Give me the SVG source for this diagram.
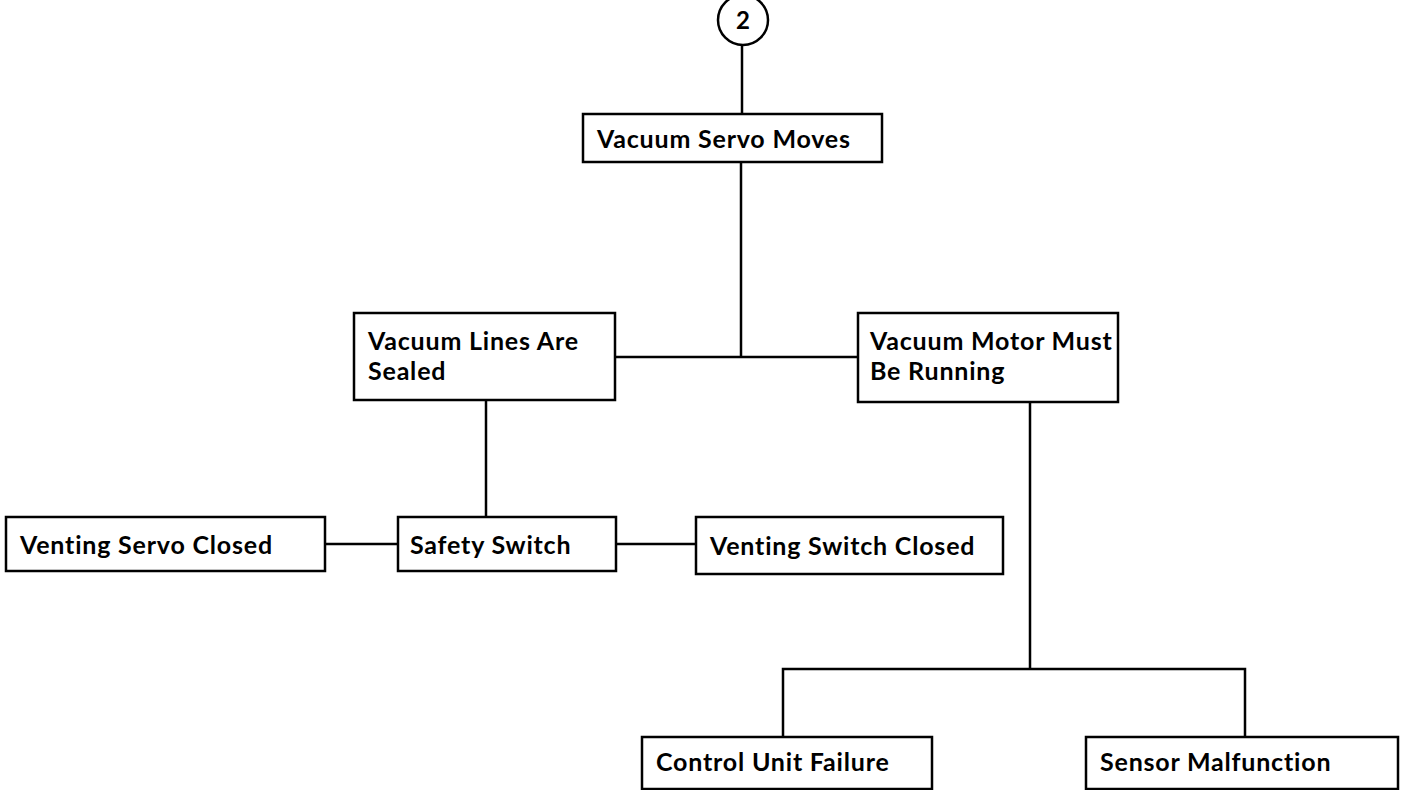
<svg xmlns="http://www.w3.org/2000/svg" width="1405" height="790" viewBox="0 0 1405 790">
<style>
.box{fill:#fff;stroke:#000;stroke-width:2.5}
.ln{fill:none;stroke:#000;stroke-width:2.5}
text{font-family:Lato,"Open Sans","Liberation Sans",sans-serif;font-weight:700;font-size:25px;letter-spacing:0.8px;font-variant-ligatures:none;fill:#000}
</style>
<rect width="1405" height="790" fill="#fff"/>
<g id="connectors">
<line class="ln" x1="742" y1="45" x2="742" y2="114"/>
<line class="ln" x1="741" y1="162" x2="741" y2="357"/>
<line class="ln" x1="615" y1="357" x2="858" y2="357"/>
<line class="ln" x1="486" y1="400" x2="486" y2="517"/>
<line class="ln" x1="325" y1="544" x2="398" y2="544"/>
<line class="ln" x1="616" y1="544" x2="696" y2="544"/>
<line class="ln" x1="1030" y1="402" x2="1030" y2="669"/>
<polyline class="ln" points="783,737 783,669 1245,669 1245,737"/>
</g>
<g id="n2"><circle class="box" cx="743" cy="20" r="25"/><text x="743" y="29" text-anchor="middle" style="font-size:24px;letter-spacing:0">2</text></g>
<g id="servo"><rect class="box" x="583" y="114" width="299" height="48"/><text x="597" y="148">Vacuum Servo Moves</text></g>
<g id="lines"><rect class="box" x="354" y="313" width="261" height="87"/><text x="368" y="350">Vacuum Lines Are</text><text x="368" y="380">Sealed</text></g>
<g id="motor"><rect class="box" x="858" y="313" width="260" height="89"/><text x="870" y="350">Vacuum Motor Must</text><text x="870" y="380">Be Running</text></g>
<g id="vservo"><rect class="box" x="6" y="517" width="319" height="54"/><text x="20" y="554">Venting Servo Closed</text></g>
<g id="safety"><rect class="box" x="398" y="517" width="218" height="54"/><text x="410" y="554">Safety Switch</text></g>
<g id="vswitch"><rect class="box" x="696" y="517" width="307" height="57"/><text x="710" y="555">Venting Switch Closed</text></g>
<g id="control"><rect class="box" x="642" y="737" width="290" height="52"/><text x="656" y="771">Control Unit Failure</text></g>
<g id="sensor"><rect class="box" x="1086" y="737" width="312" height="52"/><text x="1100" y="771">Sensor Malfunction</text></g>
</svg>
